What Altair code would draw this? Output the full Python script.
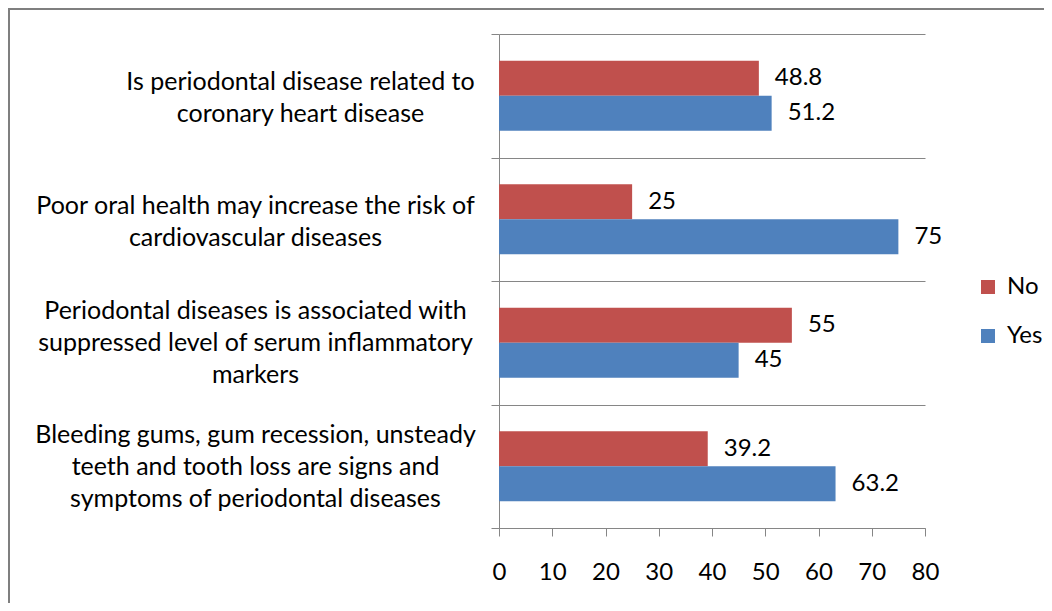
import altair as alt
import pandas as pd

categories = [
    "Is periodontal disease related to|coronary heart disease",
    "Poor oral health may increase the risk of|cardiovascular diseases",
    "Periodontal diseases is associated with|suppressed level of serum inflammatory|markers",
    "Bleeding gums, gum recession, unsteady|teeth and tooth loss are signs and|symptoms of periodontal diseases",
]
responses = ["No", "Yes"]
no_values = [48.8, 25, 55, 39.2]
yes_values = [51.2, 75, 45, 63.2]
x_ticks = [0, 10, 20, 30, 40, 50, 60, 70, 80]

rows = []
for q, n, y in zip(categories, no_values, yes_values):
    rows.append({"question": q, "response": "No", "value": n})
    rows.append({"question": q, "response": "Yes", "value": y})
df = pd.DataFrame(rows)

GREY = "#868686"
FONT = "Lato"
FS = 25
NFS = 24

y_axis = alt.Axis(
    title=None,
    labelExpr="split(datum.label, '|')",
    labelAlign="center",
    labelBaseline="middle",
    labelLineHeight=32,
    labelFontSize=FS,
    labelFont=FONT,
    labelColor="black",
    labelLimit=0,
    labelPadding={"condition": {"test": f"datum.value == '{categories[0]}'", "value": 191}, "value": 236},
    labelOffset={"condition": {"test": "length(split(datum.value, '|')) == 3", "value": -32}, "value": -14},
    tickBand="extent",
    tickSize=8,
    tickColor=GREY,
    domainColor=GREY,
    grid=True,
    gridColor=GREY,
)

x_axis = alt.Axis(
    title=None,
    values=x_ticks,
    grid=False,
    tickSize=8,
    tickColor=GREY,
    domainColor=GREY,
    labelFontSize=NFS,
    labelFont=FONT,
    labelColor="black",
    labelPadding=24,
    labelFlush=False,
)

base = alt.Chart(df).encode(
    y=alt.Y("question:N", sort=categories, scale=alt.Scale(paddingInner=0, paddingOuter=0), axis=y_axis),
    yOffset=alt.YOffset("response:N", sort=responses, scale=alt.Scale(paddingInner=0, paddingOuter=0.764)),
)

bars = base.mark_bar().encode(
    x=alt.X("value:Q", scale=alt.Scale(domain=[0, 80], nice=False), axis=x_axis),
    color=alt.Color(
        "response:N",
        sort=responses,
        scale=alt.Scale(domain=responses, range=["#C0504D", "#4F81BD"]),
        legend=alt.Legend(
            title=None,
            orient="none",
            legendX=477,
            legendY=241,
            symbolType="square",
            symbolSize=196,
            symbolStrokeWidth=0,
            labelFontSize=24,
            labelFont=FONT,
            labelColor="black",
            labelOffset=7,
            rowPadding=25,
        ),
    ),
)

labels = base.mark_text(align="left", baseline="middle", dx=16, fontSize=NFS, font=FONT, color="black").encode(
    x=alt.X("value:Q"),
    text=alt.Text("value:Q", format="~g"),
)

border = alt.Chart(alt.Data(values=[{}])).mark_rect(
    fillOpacity=0, stroke="#7f7f7f", strokeWidth=2
).encode(
    x=alt.value(-490), x2=alt.value(800), y=alt.value(-25), y2=alt.value(800)
)

chart = alt.layer(bars, labels, border).properties(
    width=426,
    height=494,
    autosize=alt.AutoSizeParams(type="none"),
    padding={"left": 491, "top": 26, "right": 119, "bottom": 75},
).configure_view(stroke=None)

chart.save("out.html", embed_options={"renderer": "svg", "actions": False})
